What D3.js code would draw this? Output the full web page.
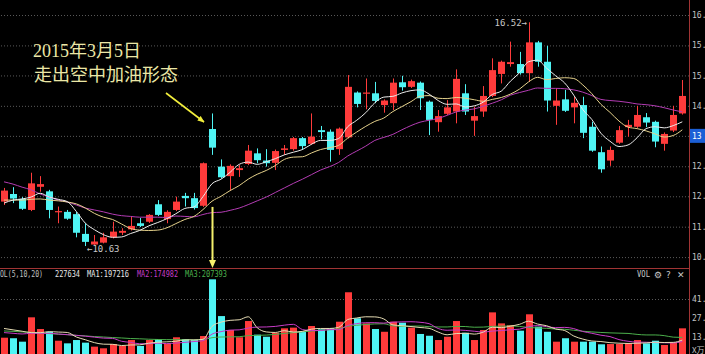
<!DOCTYPE html>
<html>
<head>
<meta charset="utf-8">
<script src="https://cdn.jsdelivr.net/npm/d3@7"></script>
<style>
  html, body { margin: 0; padding: 0; background: #000; overflow: hidden; }
  svg { display: block; }
</style>
</head>
<body>
<svg id="chart" width="705" height="354"></svg>
<script>
// daily bars
const open = [11.80, 12.00, 11.87, 11.58, 12.19, 12.07, 11.53, 11.53, 11.47, 10.95,
  10.67, 10.72, 10.86, 10.98, 11.07, 11.23, 11.27, 11.73, 11.34, 11.58,
  11.95, 11.89, 11.69, 13.71, 12.72, 12.47, 12.63, 12.79, 13.07, 12.88,
  12.82, 13.16, 13.18, 13.47, 13.32, 13.68, 13.64, 13.18, 13.49, 14.67,
  14.65, 14.65, 14.34, 14.39, 14.94, 14.82, 14.93, 14.43, 13.89, 14.11,
  14.17, 14.65, 13.93, 14.17, 14.58, 15.16, 15.42, 15.42, 15.18, 15.99,
  15.48, 14.32, 14.49, 14.28, 14.34, 13.77, 13.10, 12.88, 13.35, 13.76,
  13.77, 14.02, 13.90, 13.32, 13.67, 14.12];
const close = [12.09, 11.88, 11.61, 12.28, 12.26, 11.58, 11.55, 11.35, 10.98, 10.74,
  10.75, 10.86, 11.01, 11.03, 11.16, 11.16, 11.45, 11.45, 11.53, 11.80,
  11.89, 11.63, 12.81, 13.22, 12.44, 12.74, 12.68, 13.14, 12.89, 12.81,
  13.13, 13.20, 13.47, 13.26, 13.51, 13.63, 13.16, 13.72, 14.82, 14.37,
  14.67, 14.45, 14.46, 14.93, 14.81, 14.97, 14.52, 13.95, 14.05, 14.28,
  15.03, 14.17, 14.05, 14.58, 15.26, 15.48, 15.47, 15.18, 15.99, 15.48,
  14.46, 14.46, 14.19, 14.40, 13.61, 13.14, 12.65, 13.16, 13.68, 13.82,
  14.08, 13.88, 13.38, 13.58, 14.08, 14.58];
const high = [12.16, 12.18, 11.92, 12.56, 12.47, 12.11, 11.67, 11.58, 11.53, 11.23,
  10.92, 10.98, 11.27, 11.10, 11.40, 11.37, 11.47, 11.84, 11.57, 11.93,
  12.03, 12.03, 12.83, 14.12, 12.91, 12.78, 12.76, 13.29, 13.20, 13.18,
  13.17, 13.29, 13.50, 13.50, 14.12, 13.79, 13.70, 13.75, 15.13, 14.70,
  15.04, 14.95, 14.49, 15.04, 15.11, 15.01, 14.96, 14.46, 14.21, 14.47,
  15.28, 14.89, 14.30, 14.84, 15.57, 15.51, 16.01, 15.74, 16.52, 16.03,
  15.90, 14.78, 14.74, 14.56, 14.56, 13.90, 13.25, 13.25, 13.79, 13.95,
  14.32, 14.13, 13.93, 13.62, 14.32, 15.00];
const low = [11.71, 11.76, 11.58, 11.55, 12.06, 11.36, 11.23, 11.32, 10.86, 10.63,
  10.66, 10.70, 10.83, 10.92, 11.04, 11.13, 11.24, 11.42, 11.23, 11.55,
  11.67, 11.59, 11.66, 13.03, 12.41, 12.09, 12.45, 12.76, 12.81, 12.72,
  12.63, 13.03, 13.14, 13.16, 13.29, 13.44, 12.85, 13.03, 13.46, 14.28,
  14.23, 14.39, 14.14, 14.21, 14.72, 14.79, 14.21, 13.55, 13.64, 14.08,
  13.86, 14.08, 13.53, 14.03, 14.55, 14.91, 15.35, 15.14, 14.95, 15.35,
  14.17, 13.82, 14.16, 13.86, 13.47, 13.11, 12.56, 12.74, 13.32, 13.51,
  13.74, 13.76, 13.23, 13.14, 13.63, 14.09];

// price moving averages
const ma5 = [11.76, 11.84, 11.87, 11.92, 12.02, 11.92, 11.86, 11.80, 11.54, 11.23,
  11.06, 10.93, 10.86, 10.87, 10.96, 11.04, 11.16, 11.25, 11.35, 11.48,
  11.62, 11.66, 11.93, 12.27, 12.39, 12.57, 12.78, 12.84, 12.78, 12.85,
  12.93, 13.03, 13.10, 13.17, 13.31, 13.41, 13.41, 13.46, 13.77, 13.94,
  14.14, 14.40, 14.55, 14.57, 14.66, 14.72, 14.74, 14.63, 14.46, 14.36,
  14.37, 14.29, 14.32, 14.42, 14.62, 14.71, 14.97, 15.19, 15.48, 15.52,
  15.31, 15.11, 14.92, 14.60, 14.22, 13.96, 13.60, 13.39, 13.25, 13.29,
  13.48, 13.72, 13.77, 13.74, 13.80, 13.90];
const ma10 = [11.84, 11.84, 11.84, 11.86, 11.87, 11.84, 11.82, 11.79, 11.74, 11.63,
  11.49, 11.39, 11.33, 11.21, 11.09, 11.05, 11.04, 11.05, 11.11, 11.22,
  11.33, 11.41, 11.59, 11.81, 11.94, 12.09, 12.22, 12.39, 12.52, 12.62,
  12.75, 12.91, 12.97, 12.98, 13.08, 13.17, 13.22, 13.28, 13.47, 13.63,
  13.78, 13.91, 14.00, 14.17, 14.30, 14.43, 14.57, 14.59, 14.52, 14.51,
  14.54, 14.52, 14.48, 14.44, 14.49, 14.54, 14.63, 14.76, 14.95, 15.07,
  15.01, 15.04, 15.06, 15.04, 14.87, 14.64, 14.36, 14.15, 13.92, 13.76,
  13.72, 13.66, 13.58, 13.50, 13.54, 13.69];
const ma20 = [12.32, 12.26, 12.18, 12.11, 12.00, 11.92, 11.84, 11.79, 11.71, 11.63,
  11.58, 11.53, 11.47, 11.43, 11.41, 11.39, 11.39, 11.39, 11.38, 11.42,
  11.41, 11.40, 11.46, 11.51, 11.52, 11.57, 11.63, 11.72, 11.82, 11.92,
  12.04, 12.16, 12.28, 12.39, 12.51, 12.63, 12.72, 12.83, 13.00, 13.13,
  13.26, 13.41, 13.49, 13.57, 13.69, 13.80, 13.89, 13.94, 13.99, 14.07,
  14.16, 14.21, 14.24, 14.31, 14.39, 14.48, 14.60, 14.67, 14.73, 14.79,
  14.78, 14.78, 14.77, 14.74, 14.68, 14.59, 14.49, 14.46, 14.44, 14.41,
  14.37, 14.35, 14.32, 14.27, 14.21, 14.16];

// volume (10k units) and its averages
const volume = [13.3, 12.9, 10.4, 28.1, 19.6, 17.6, 11.1, 9.2, 11.6, 9.7,
  6.8, 5.6, 8.7, 7.3, 11.6, 7.3, 11.6, 12.3, 8.7, 13.6,
  12.3, 11.6, 14.5, 55.7, 29.0, 18.9, 13.6, 25.4, 15.5, 14.0,
  16.9, 20.1, 20.6, 17.9, 21.8, 19.4, 20.1, 24.9, 46.3, 27.4,
  23.7, 19.6, 17.6, 24.9, 24.2, 20.6, 16.0, 14.7, 11.6, 14.0,
  25.4, 16.9, 11.6, 18.9, 31.7, 23.7, 22.5, 18.4, 30.3, 21.3,
  17.6, 10.4, 12.9, 10.4, 10.4, 10.4, 8.5, 8.7, 8.7, 9.2,
  11.6, 9.2, 11.1, 8.0, 9.7, 20.1];
const volMa5 = [20.0, 19.0, 18.0, 17.0, 16.9, 17.7, 17.4, 17.1, 13.8, 11.8,
  9.7, 8.6, 8.5, 7.6, 8.0, 8.1, 9.3, 10.0, 10.3, 10.7,
  11.7, 11.7, 12.1, 21.5, 24.6, 25.9, 26.3, 28.5, 20.5, 17.5,
  17.1, 18.4, 17.4, 17.9, 19.5, 20.0, 20.0, 20.8, 26.5, 27.6,
  28.5, 28.4, 26.9, 22.6, 22.0, 21.4, 20.7, 20.1, 17.4, 15.4,
  16.3, 16.5, 15.9, 17.4, 20.9, 20.6, 21.7, 23.0, 25.3, 23.2,
  22.0, 19.6, 18.5, 14.5, 12.3, 10.9, 10.5, 9.7, 9.3, 9.1,
  9.3, 9.5, 10.0, 9.8, 9.9, 11.6];
const volMa10 = [17.0, 16.5, 16.0, 16.5, 16.5, 16.5, 16.0, 15.5, 15.0, 14.4,
  13.7, 13.0, 12.8, 10.7, 9.9, 8.9, 8.9, 9.3, 9.0, 9.4,
  9.9, 10.5, 11.1, 15.9, 17.7, 18.8, 19.0, 20.3, 21.0, 21.1,
  21.5, 22.4, 23.0, 19.2, 18.5, 18.5, 19.2, 19.1, 22.2, 23.5,
  24.2, 24.2, 23.9, 24.6, 24.8, 24.9, 24.5, 23.5, 20.0, 18.7,
  18.9, 18.6, 18.0, 17.4, 18.1, 18.5, 19.1, 19.5, 21.3, 22.1,
  21.3, 20.6, 20.8, 19.9, 17.8, 16.5, 15.1, 14.1, 11.9, 10.7,
  10.1, 10.0, 9.8, 9.6, 9.5, 10.5];
const volMa20 = [18.2, 17.9, 17.5, 17.2, 16.7, 16.3, 15.8, 15.5, 15.0, 14.6,
  14.1, 13.8, 13.4, 13.1, 12.7, 12.5, 12.2, 12.0, 11.9, 11.85,
  11.8, 11.7, 11.9, 13.3, 13.8, 13.9, 14.0, 14.8, 15.0, 15.2,
  15.7, 16.4, 17.0, 17.6, 18.1, 18.7, 19.1, 19.7, 21.6, 22.3,
  22.9, 23.3, 23.4, 21.9, 21.6, 21.7, 21.8, 21.3, 21.1, 21.1,
  21.5, 21.4, 20.9, 21.0, 21.5, 21.7, 21.8, 21.5, 20.7, 20.4,
  20.1, 19.6, 19.4, 18.7, 18.0, 17.5, 17.1, 16.8, 16.6, 16.4,
  15.7, 15.3, 15.3, 14.8, 13.7, 13.5];

// axis ticks as shown on the right edge
const priceTicks = [16.71, 15.91, 15.12, 14.32, 13.53, 12.73, 11.94, 11.14, 10.34];
const priceTickLabels = ["16.", "15.", "15.", "14.", "13", "12.", "12.", "11.", "10."];
const volTicks = [41.4, 27.6, 13.8];
const volTickLabels = ["41.", "27.", "13."];

const W = 705, H = 354;
const axisX = 689, splitY = 268;
const UP = '#ff3b3b', DOWN = '#4ff4f4', FRAME = '#a03434', GRID = '#5a5a5a';
const mono = '"DejaVu Sans Mono", monospace';

const svg = d3.select('#chart');
svg.append('rect').attr('width', W).attr('height', H).attr('fill', '#000');

const x = d3.scaleLinear().domain([0, open.length - 1]).range([4, 682.3]);
const y = d3.scaleLinear().domain([10, 17]).range([270, 4]);
const yv = d3.scaleLinear().domain([0, 64]).range([356, 267.9]);
const px = i => Math.round(x(i));

const defs = svg.append('defs');
defs.append('clipPath').attr('id', 'clipPrice')
  .append('rect').attr('x', 0).attr('y', 0).attr('width', axisX).attr('height', splitY);
defs.append('clipPath').attr('id', 'clipVol')
  .append('rect').attr('x', 0).attr('y', splitY + 1).attr('width', axisX).attr('height', H - splitY);
defs.append('marker').attr('id', 'arrowY')
  .attr('viewBox', '0 0 10 10').attr('refX', 9).attr('refY', 5)
  .attr('markerWidth', 7).attr('markerHeight', 7).attr('orient', 'auto')
  .attr('markerUnits', 'userSpaceOnUse')
  .append('path').attr('d', 'M0,1 L10,5 L0,9 z').attr('fill', '#f2ee3c');

// price grid
const grid = svg.append('g')
  .attr('transform', `translate(${axisX},0)`)
  .call(d3.axisLeft(y).tickValues(priceTicks).tickSize(axisX).tickFormat(''));
grid.select('.domain').remove();
grid.selectAll('line').attr('stroke', GRID).attr('stroke-dasharray', '1,2');

// volume grid (only the top level shows)
const vgrid = svg.append('g')
  .attr('transform', `translate(${axisX},0)`)
  .call(d3.axisLeft(yv).tickValues([volTicks[0]]).tickSize(axisX).tickFormat(''));
vgrid.select('.domain').remove();
vgrid.selectAll('line').attr('stroke', GRID).attr('stroke-dasharray', '1,2');

// candles
const bars = d3.range(open.length);
const price = svg.append('g').attr('clip-path', 'url(#clipPrice)');
const colorOf = i => close[i] >= open[i] ? UP : DOWN;

price.selectAll('line.wick').data(bars).join('line')
  .attr('class', 'wick')
  .attr('x1', i => px(i) + 0.5).attr('x2', i => px(i) + 0.5)
  .attr('y1', i => y(high[i])).attr('y2', i => y(low[i]))
  .attr('stroke', colorOf).attr('stroke-width', 1);

price.selectAll('rect.body').data(bars).join('rect')
  .attr('class', 'body')
  .attr('x', i => px(i) - 3).attr('width', 7)
  .attr('y', i => y(Math.max(open[i], close[i])))
  .attr('height', i => Math.max(1.2, Math.abs(y(open[i]) - y(close[i]))))
  .attr('fill', colorOf);

// moving averages
const line = d3.line().x((d, i) => x(i)).y(d => y(d)).curve(d3.curveMonotoneX);
[[ma20, '#b43cb4'], [ma10, '#e6d28c'], [ma5, '#ececec']].forEach(([s, c]) => {
  price.append('path').datum(s).attr('d', line)
    .attr('fill', 'none').attr('stroke', c).attr('stroke-width', 1);
});

// volume bars
const vol = svg.append('g').attr('clip-path', 'url(#clipVol)');
vol.selectAll('rect').data(bars).join('rect')
  .attr('x', i => px(i) - 3).attr('width', 7)
  .attr('y', i => yv(volume[i]))
  .attr('height', i => yv(0) - yv(volume[i]))
  .attr('fill', colorOf);

const vline = d3.line().x((d, i) => x(i)).y(d => yv(d)).curve(d3.curveMonotoneX);
[[volMa20, '#4cb04c'], [volMa10, '#c83cc8'], [volMa5, '#e6dcb4']].forEach(([s, c]) => {
  vol.append('path').datum(s).attr('d', vline)
    .attr('fill', 'none').attr('stroke', c).attr('stroke-width', 1);
});

// frame
svg.append('line').attr('x1', 0).attr('x2', axisX).attr('y1', splitY + 0.5).attr('y2', splitY + 0.5)
  .attr('stroke', FRAME).attr('stroke-width', 1);
svg.append('line').attr('x1', axisX + 0.5).attr('x2', axisX + 0.5).attr('y1', 0).attr('y2', H)
  .attr('stroke', FRAME).attr('stroke-width', 1);

// current price marker on the axis
svg.append('rect').attr('x', axisX + 1).attr('y', y(priceTicks[4]) - 7)
  .attr('width', W - axisX - 1).attr('height', 14).attr('fill', '#1b5fd6');

// price axis labels
const pAxis = svg.append('g')
  .attr('transform', `translate(${axisX},0)`)
  .call(d3.axisRight(y).tickValues(priceTicks).tickSize(0).tickPadding(3)
    .tickFormat((d, i) => priceTickLabels[i]));
pAxis.select('.domain').remove();
pAxis.selectAll('text').attr('fill', (d, i) => i === 4 ? '#fff' : '#c4c4c4')
  .style('font', `8px ${mono}`);

// volume axis labels
const vAxis = svg.append('g')
  .attr('transform', `translate(${axisX},0)`)
  .call(d3.axisRight(yv).tickValues(volTicks).tickSize(0).tickPadding(3)
    .tickFormat((d, i) => volTickLabels[i]));
vAxis.select('.domain').remove();
vAxis.selectAll('text').attr('fill', '#c4c4c4').style('font', `8px ${mono}`);
svg.append('text').attr('x', axisX + 3).attr('y', 353).attr('fill', '#c4c4c4')
  .style('font', '8px "Noto Sans CJK SC", sans-serif').text('X万');

// high / low markers
const hiIdx = high.indexOf(d3.max(high));
const loIdx = low.indexOf(d3.min(low));
svg.append('text').attr('x', px(hiIdx) - 2).attr('y', y(high[hiIdx]) + 4)
  .attr('text-anchor', 'end').attr('fill', '#c8c8c8')
  .style('font', `9px ${mono}`).text(`${high[hiIdx].toFixed(2)}→`);
svg.append('text').attr('x', px(loIdx) + 2).attr('y', y(low[loIdx]) + 6)
  .attr('fill', '#c8c8c8')
  .style('font', `9px ${mono}`).text(`←${low[loIdx].toFixed(2)}`);

// volume header
const header = [
  ['VOL(5,10,20)', -4, 47, '#c0c0c0'],
  ['227634', 55, 25, '#e8e8e8'],
  ['MA1:197216', 87, 42, '#e8e8e8'],
  ['MA2:174982', 137, 41, '#c83cc8'],
  ['MA3:207393', 185, 42, '#4cb04c']
];
header.forEach(([t, hx, len, c]) => {
  svg.append('text').attr('x', hx).attr('y', 277)
    .attr('textLength', len).attr('lengthAdjust', 'spacingAndGlyphs')
    .attr('fill', c).style('font', `8px ${mono}`).text(t);
});
svg.append('text').attr('x', 637).attr('y', 277).attr('textLength', 13)
  .attr('lengthAdjust', 'spacingAndGlyphs').attr('fill', '#c8c8c8')
  .style('font', `8px ${mono}`).text('VOL');
svg.append('text').attr('x', 654).attr('y', 278).attr('fill', '#c8c8c8')
  .style('font', '9px "DejaVu Sans", sans-serif').text('⚙');
svg.append('text').attr('x', 666).attr('y', 278).attr('fill', '#c8c8c8')
  .style('font', '9px "DejaVu Sans", sans-serif').text('?');
svg.append('text').attr('x', 677).attr('y', 278).attr('fill', '#c8c8c8')
  .style('font', '9px "DejaVu Sans", sans-serif').text('✕');

// annotation
const note = svg.append('g').attr('fill', '#ebe7a6')
  .style('font', '18px "Liberation Serif", "Noto Sans CJK SC", serif');
note.append('text').attr('x', 33).attr('y', 57).text('2015年3月5日');
note.append('text').attr('x', 34).attr('y', 81).text('走出空中加油形态');

svg.append('line').attr('x1', 166).attr('y1', 93).attr('x2', 204).attr('y2', 122)
  .attr('stroke', '#f2ee3c').attr('stroke-width', 1.6).attr('marker-end', 'url(#arrowY)');

// cursor marker on the breakout day
const cx = px(23) + 0.5;
svg.append('line').attr('x1', cx).attr('x2', cx)
  .attr('y1', y(low[22])).attr('y2', splitY - 6)
  .attr('stroke', '#f4f06c').attr('stroke-width', 2);
svg.append('path')
  .attr('d', `M${cx - 3.5},${splitY - 8} L${cx + 3.5},${splitY - 8} L${cx},${splitY} Z`)
  .attr('fill', '#f4f06c');
</script>
</body>
</html>
